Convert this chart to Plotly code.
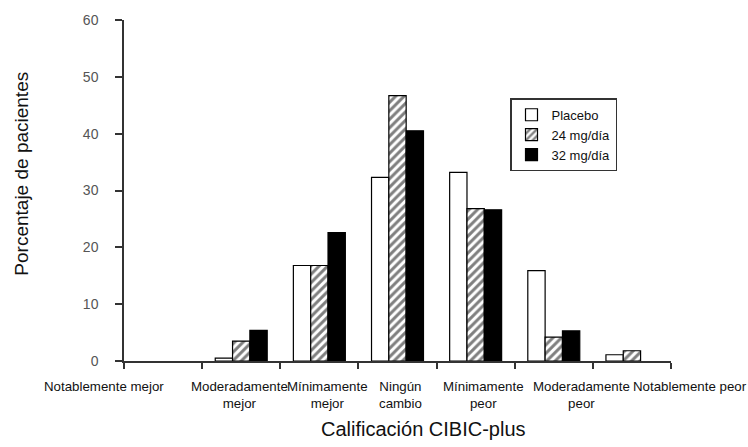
import plotly.graph_objects as go

categories = ["Notablemente mejor", "Moderadamente mejor", "Mínimamente mejor", "Ningún cambio",
              "Mínimamente peor", "Moderadamente peor", "Notablemente peor"]
tick_labels = ["Notablemente mejor", "Moderadamente<br>mejor", "Mínimamente<br>mejor", "Ningún<br>cambio",
               "Mínimamente<br>peor", "Moderadamente<br>peor", "Notablemente peor"]
placebo = [0, 0.5, 16.8, 32.3, 33.2, 15.9, 1.1]
mg24 = [0, 3.5, 16.8, 46.7, 26.8, 4.2, 1.8]
mg32 = [0, 5.4, 22.6, 40.5, 26.6, 5.3, 0]
y_ticks = [0, 10, 20, 30, 40, 50, 60]

# label centre positions (pixels) to match reference placement
label_px = [104, 239, 327, 400, 483, 581, 690]

FONT = "Liberation Sans, Arial, sans-serif"
L, R, T, B = 124, 77, 17, 86
PW = 748 - L - R
PH = 447 - T - B


def px_x(p):
    return (p - L) / PW


def px_y(p):
    return (447 - B - p) / PH


def nz(vals):
    # zero-height bars are not drawn in the reference
    return [v if v != 0 else None for v in vals]


fig = go.Figure()
fig.add_trace(go.Bar(x=categories, y=nz(placebo), name="Placebo",
                     marker=dict(color="white", line=dict(color="black", width=1.2))))
fig.add_trace(go.Bar(x=categories, y=nz(mg24), name="24 mg/día",
                     marker=dict(color="white", line=dict(color="black", width=1.2),
                                 pattern=dict(shape="/", fgcolor="black", bgcolor="white",
                                              size=6, solidity=0.5))))
fig.add_trace(go.Bar(x=categories, y=nz(mg32), name="32 mg/día",
                     marker=dict(color="black", line=dict(color="black", width=1.2))))

fig.update_layout(
    width=748, height=447,
    margin=dict(l=L, r=R, t=T, b=B),
    paper_bgcolor="white", plot_bgcolor="white",
    barmode="group", bargap=0.335, bargroupgap=0,
    font=dict(family=FONT, color="#111"),
    legend=dict(x=px_x(510), y=px_y(96), xanchor="left", yanchor="top",
                bordercolor="#333", borderwidth=1.5, bgcolor="white",
                font=dict(size=13, family=FONT, color="#111"),
                tracegroupgap=0, itemwidth=30),
    showlegend=True,
)
fig.update_xaxes(
    type="category", showline=True, linecolor="#333", linewidth=1.5,
    ticks="outside", tickson="boundaries", ticklen=6, tickcolor="#333", tickwidth=1.5,
    showticklabels=False, showgrid=False, zeroline=False,
    range=[-0.5, 6.5],
)
fig.update_yaxes(
    range=[0, 60], tickvals=y_ticks, showline=True, linecolor="#333", linewidth=1.5,
    ticks="outside", ticklen=7, tickcolor="#333", tickwidth=1.5,
    tickfont=dict(size=14, color="#555", family=FONT), ticklabelstandoff=14,
    showgrid=False, zeroline=False,
)

for lbl, xp in zip(tick_labels, label_px):
    fig.add_annotation(x=px_x(xp), xref="paper", y=px_y(377), yref="paper", text=lbl,
                       showarrow=False, xanchor="center", yanchor="top",
                       font=dict(size=13.3, family=FONT, color="#111"), align="center")

fig.add_annotation(x=px_x(423), xref="paper", y=px_y(430), yref="paper",
                   text="Calificación CIBIC-plus", showarrow=False,
                   xanchor="center", yanchor="middle",
                   font=dict(size=20, family=FONT, color="#111"))
fig.add_annotation(x=px_x(22), xref="paper", y=px_y(172), yref="paper",
                   text="Porcentaje de pacientes", showarrow=False, textangle=-90,
                   xanchor="center", yanchor="middle",
                   font=dict(size=19, family=FONT, color="#111"))

fig.write_html("out.html")
